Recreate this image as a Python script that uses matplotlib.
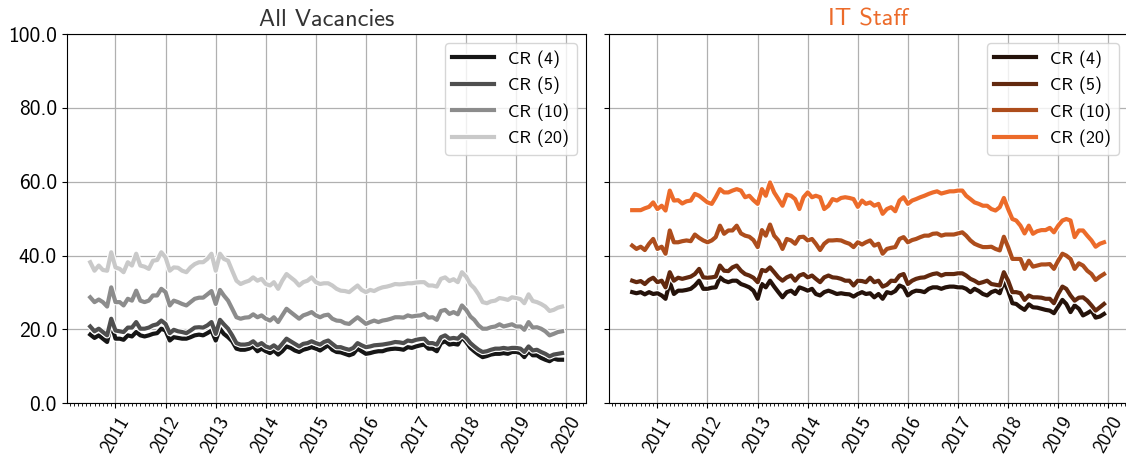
import numpy as np
import pandas as pd
import matplotlib
matplotlib.use("Agg")
import matplotlib.pyplot as plt
import matplotlib.dates as mdates
import matplotlib.patheffects as pe
from matplotlib.ticker import FormatStrFormatter, MultipleLocator

plt.rcParams['font.family'] = ['cmss10', 'DejaVu Sans']
plt.rcParams['axes.formatter.use_mathtext'] = True

# ---- monthly concentration ratios, Jul 2010 - Dec 2019 ----
months = pd.date_range('2010-07-01', periods=114, freq='MS')
labels = ['CR (4)', 'CR (5)', 'CR (10)', 'CR (20)']

all_cr4 = [18.6, 17.7, 18.4, 17.5, 16.6, 21.5, 17.5, 17.5, 17.2, 18.4, 18.1, 19.3, 18.4, 18.1, 18.4, 18.8, 19.0, 20.2, 19.7, 17.0,
           17.9, 17.7, 17.5, 17.5, 17.9, 18.4, 18.6, 18.4, 19.0, 19.7, 17.0, 20.2, 18.8, 17.9, 16.8, 14.8, 14.5, 14.5, 14.8, 15.4,
           14.1, 14.8, 14.1, 13.6, 14.3, 13.2, 14.1, 15.4, 15.0, 14.3, 13.9, 14.5, 14.8, 15.2, 14.8, 14.3, 15.0, 15.7, 14.5, 13.9,
           13.8, 13.4, 13.0, 13.4, 14.8, 14.1, 13.4, 13.6, 13.9, 14.1, 14.1, 14.5, 14.7, 14.8, 14.7, 14.5, 15.2, 15.0, 15.4, 15.7,
           15.9, 14.8, 14.8, 14.1, 16.3, 16.8, 15.9, 16.1, 15.9, 17.9, 16.6, 15.0, 14.1, 13.2, 12.5, 12.8, 13.2, 13.4, 13.4, 13.6,
           13.4, 13.9, 13.9, 13.6, 12.5, 14.1, 13.0, 13.0, 12.3, 11.8, 11.4, 12.1, 11.8, 11.8]
all_cr5 = [20.8, 19.5, 20.2, 19.3, 18.4, 22.9, 19.7, 19.5, 19.3, 20.5, 20.5, 22.0, 20.2, 20.2, 20.5, 21.1, 21.4, 22.4, 21.5, 19.0,
           19.9, 19.5, 19.3, 19.0, 19.7, 20.5, 20.6, 20.5, 21.1, 22.0, 18.8, 22.6, 21.4, 20.2, 18.4, 16.3, 15.9, 15.9, 16.1, 16.8,
           15.7, 16.3, 15.4, 15.0, 15.7, 14.8, 16.1, 17.5, 16.8, 16.1, 15.4, 16.1, 16.3, 16.8, 16.3, 15.9, 16.6, 17.0, 16.1, 15.2,
           15.2, 14.8, 14.5, 15.0, 16.3, 15.7, 15.2, 15.4, 15.7, 15.8, 15.9, 16.1, 16.3, 16.6, 16.5, 16.3, 17.0, 16.8, 17.2, 17.4,
           17.5, 16.3, 16.3, 15.9, 17.9, 18.4, 17.5, 17.7, 17.5, 18.6, 17.7, 16.3, 15.4, 14.5, 13.9, 14.1, 14.5, 14.8, 14.8, 15.0,
           14.8, 15.0, 15.0, 14.8, 13.9, 15.4, 14.3, 14.5, 13.9, 13.4, 12.7, 13.2, 13.4, 13.6]
all_cr10 = [28.7, 27.4, 28.1, 27.4, 26.2, 31.4, 27.4, 27.4, 26.5, 28.3, 27.8, 30.5, 27.8, 27.4, 27.8, 29.2, 29.2, 31.0, 30.1, 26.5,
            27.8, 27.4, 26.9, 26.5, 27.4, 28.3, 28.6, 28.6, 29.5, 30.4, 26.9, 30.7, 29.2, 27.8, 25.6, 23.3, 22.9, 23.2, 23.3, 24.1,
            23.3, 23.8, 22.9, 22.4, 23.3, 22.0, 23.8, 25.6, 24.7, 23.8, 22.9, 23.8, 24.2, 24.7, 23.8, 23.3, 23.8, 24.0, 22.9, 22.4,
            22.3, 21.7, 21.5, 22.4, 23.3, 22.4, 21.5, 22.0, 22.4, 22.0, 22.4, 22.6, 22.9, 23.3, 23.3, 23.2, 23.8, 23.5, 23.7, 23.8,
            24.2, 23.2, 23.3, 22.6, 25.0, 25.3, 24.2, 24.7, 24.1, 26.5, 25.3, 23.5, 22.6, 21.1, 20.2, 20.2, 20.6, 20.8, 21.4, 20.8,
            21.1, 21.4, 20.8, 20.8, 19.9, 22.0, 20.5, 20.6, 20.2, 19.5, 18.4, 18.8, 19.3, 19.5]
all_cr20 = [38.2, 35.9, 37.3, 36.1, 35.9, 40.9, 36.8, 36.4, 35.5, 38.2, 37.3, 40.5, 37.3, 37.0, 36.4, 38.6, 38.8, 40.9, 39.5, 35.9,
            36.8, 36.7, 35.9, 35.5, 36.8, 37.7, 38.2, 38.2, 39.1, 40.5, 35.9, 40.5, 39.1, 38.6, 35.9, 33.2, 32.3, 32.8, 33.2, 34.1,
            33.2, 33.7, 32.3, 31.9, 32.8, 31.0, 33.2, 35.0, 34.1, 33.2, 31.9, 32.8, 33.2, 34.1, 32.8, 32.3, 32.5, 32.5, 31.9, 31.0,
            30.5, 30.4, 30.1, 31.0, 31.9, 30.7, 30.1, 30.7, 30.4, 31.0, 31.4, 31.6, 31.9, 32.3, 32.2, 32.3, 32.5, 32.5, 32.7, 32.8,
            32.8, 31.9, 31.9, 31.6, 33.7, 34.1, 33.1, 33.6, 32.8, 35.5, 34.3, 32.2, 31.2, 29.5, 27.4, 27.1, 27.6, 27.8, 28.5, 28.3,
            28.0, 28.7, 28.5, 28.2, 27.1, 29.5, 27.7, 27.4, 26.9, 26.2, 25.0, 25.3, 25.9, 26.2]

it_cr4 = [30.1, 29.8, 30.1, 29.5, 30.1, 29.6, 29.8, 29.2, 28.3, 32.8, 29.6, 30.5, 30.5, 30.7, 31.0, 31.9, 33.2, 31.0, 31.0, 31.3,
          31.4, 34.1, 33.2, 32.8, 33.2, 33.2, 32.3, 31.9, 31.4, 30.5, 28.3, 32.3, 31.4, 33.2, 31.6, 30.1, 28.7, 30.1, 30.5, 29.6,
          31.4, 31.0, 30.5, 31.0, 29.6, 29.2, 30.1, 30.5, 30.1, 29.6, 29.8, 29.6, 29.5, 28.9, 29.6, 30.1, 29.6, 29.8, 28.7, 29.6,
          28.3, 30.1, 29.8, 30.4, 31.9, 31.4, 29.2, 30.1, 30.5, 30.4, 30.1, 31.0, 31.4, 31.4, 31.0, 31.4, 31.6, 31.6, 31.4, 31.4,
          31.0, 30.1, 31.0, 30.4, 29.6, 29.2, 30.1, 30.5, 29.8, 33.1, 30.5, 27.1, 26.9, 26.0, 25.3, 26.8, 26.0, 25.9, 25.6, 25.3,
          25.1, 24.4, 26.2, 28.0, 26.9, 24.7, 26.5, 25.6, 23.8, 24.4, 25.1, 23.2, 23.5, 24.2]
it_cr5 = [33.2, 32.8, 33.1, 32.3, 33.4, 34.0, 32.8, 33.2, 31.4, 35.5, 33.2, 34.0, 33.7, 34.0, 34.3, 35.0, 36.4, 34.1, 34.0, 34.1,
          34.3, 37.3, 35.9, 35.8, 36.8, 37.3, 35.9, 35.0, 34.6, 34.0, 32.8, 36.1, 35.8, 36.8, 35.5, 34.1, 33.2, 34.1, 34.6, 33.2,
          34.6, 35.0, 34.1, 34.6, 33.7, 32.8, 34.1, 34.6, 34.1, 34.0, 33.7, 33.2, 33.2, 31.9, 33.2, 33.1, 32.8, 34.0, 32.8, 33.2,
          31.6, 32.1, 33.2, 33.1, 34.6, 35.0, 32.3, 33.2, 33.7, 34.0, 34.1, 34.6, 35.0, 35.2, 34.6, 35.0, 35.0, 35.0, 35.2, 35.2,
          34.6, 33.7, 33.2, 32.5, 32.8, 33.2, 32.3, 32.1, 31.9, 35.5, 33.2, 30.1, 30.1, 29.8, 28.0, 29.2, 28.7, 28.7, 28.6, 28.3,
          28.3, 27.1, 29.6, 31.6, 31.0, 29.2, 27.8, 28.6, 28.7, 27.8, 26.5, 25.1, 26.0, 26.9]
it_cr10 = [42.7, 41.8, 42.4, 41.5, 43.2, 44.5, 41.8, 42.4, 40.5, 46.8, 43.6, 43.6, 43.9, 44.1, 43.9, 45.7, 44.8, 44.1, 43.6, 44.1,
           45.0, 48.1, 45.9, 46.8, 46.8, 48.1, 46.0, 45.4, 45.1, 44.2, 42.3, 46.9, 45.4, 48.4, 45.4, 44.1, 41.8, 44.5, 44.1, 43.2,
           45.0, 45.1, 44.1, 44.5, 43.2, 41.5, 43.2, 44.1, 44.1, 44.2, 44.1, 43.6, 43.2, 42.3, 43.6, 43.0, 43.6, 44.1, 42.7, 43.2,
           40.5, 41.8, 42.1, 42.3, 44.5, 45.0, 43.6, 44.2, 44.5, 45.0, 45.4, 45.4, 45.9, 46.0, 45.4, 45.7, 45.7, 45.7, 46.0, 46.3,
           45.4, 44.1, 43.2, 42.7, 42.3, 42.3, 42.4, 41.8, 41.4, 45.1, 42.3, 39.1, 39.1, 39.1, 36.4, 38.6, 37.0, 37.3, 37.6, 37.6,
           37.7, 36.4, 38.6, 40.5, 40.0, 39.1, 36.4, 37.9, 37.3, 35.9, 35.0, 33.4, 34.3, 35.0]
it_cr20 = [52.3, 52.3, 52.3, 52.8, 53.2, 54.4, 52.6, 53.5, 52.2, 57.6, 54.9, 55.0, 54.1, 54.7, 54.9, 56.7, 56.2, 55.3, 54.4, 54.0,
           55.8, 58.0, 57.1, 57.1, 57.6, 58.0, 57.6, 55.8, 56.2, 55.0, 54.0, 58.0, 56.2, 59.8, 57.1, 55.3, 53.5, 56.5, 56.2, 55.3,
           52.6, 55.8, 57.1, 55.8, 56.2, 55.8, 52.6, 53.5, 55.3, 54.9, 55.6, 55.8, 55.6, 55.3, 53.2, 54.9, 54.0, 54.4, 53.5, 54.0,
           51.3, 52.6, 53.1, 52.0, 54.9, 55.8, 54.0, 54.9, 55.3, 55.8, 56.2, 56.7, 57.1, 57.4, 56.8, 57.1, 57.4, 57.4, 57.6, 57.6,
           56.2, 55.3, 54.4, 54.0, 53.5, 53.5, 52.6, 52.2, 53.1, 55.6, 52.6, 49.9, 49.5, 48.1, 46.0, 48.1, 45.9, 46.6, 46.9, 46.9,
           47.5, 46.3, 48.1, 49.5, 49.9, 49.5, 45.0, 46.8, 46.8, 45.4, 44.1, 42.4, 43.2, 43.6]

grey_colors = ['#161616', '#4f4f4f', '#8c8c8c', '#c9c9c9']
orange_colors = ['#24120a', '#62290f', '#ad4d1c', '#ec6b2a']

fig = plt.figure(figsize=(11.26, 4.57), dpi=100)
ax1 = fig.add_axes([0.0592, 0.1175, 0.4609, 0.8081])
ax2 = fig.add_axes([0.5405, 0.1175, 0.4609, 0.8081], sharey=ax1)

outline = [pe.Stroke(linewidth=4.6, foreground='white'), pe.Normal()]

panels = [
    (ax1, [all_cr4, all_cr5, all_cr10, all_cr20], grey_colors, 'All Vacancies', '#333333'),
    (ax2, [it_cr4, it_cr5, it_cr10, it_cr20], orange_colors, 'IT Staff', '#ec6b2a'),
]

for ax, series, colors, title, tcolor in panels:
    for vals, lab, col in zip(series, labels, colors):
        ax.plot(months, vals, color=col, lw=3.0, label=lab, path_effects=outline)
    ax.set_title(title, fontsize=17.5, color=tcolor)
    ax.set_ylim(0, 100)
    ax.yaxis.set_major_locator(MultipleLocator(20))
    ax.yaxis.set_major_formatter(FormatStrFormatter('%.1f'))
    ax.xaxis.set_major_locator(mdates.YearLocator())
    ax.xaxis.set_minor_locator(mdates.MonthLocator())
    ax.xaxis.set_major_formatter(mdates.DateFormatter('%Y'))
    ax.grid(True, which='major', color='#b0b0b0', lw=0.9)
    ax.tick_params(axis='y', labelsize=15.5)
    ax.tick_params(axis='x', labelsize=14, labelrotation=60)
    ax.legend(loc='upper right', fontsize=13, handlelength=2.3)

ax2.tick_params(axis='y', labelleft=False)

plt.savefig('out.png', dpi=100)
